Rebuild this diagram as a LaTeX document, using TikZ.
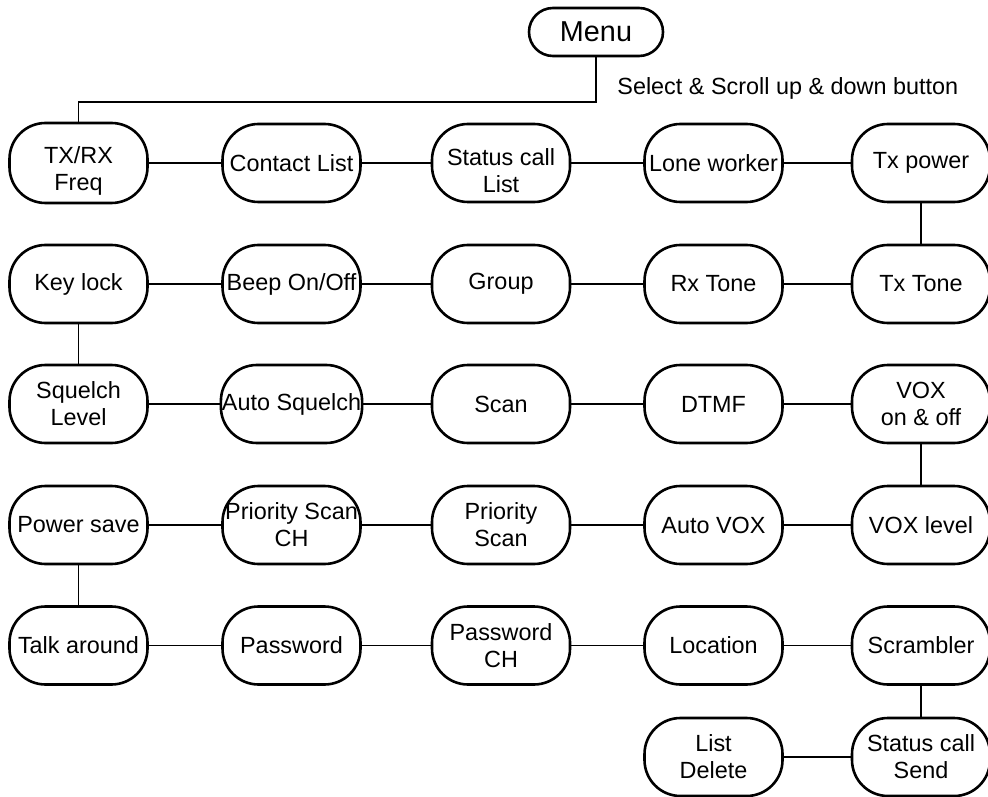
\documentclass[tikz,border=0pt]{standalone}
\usepackage{fontspec}
\setmainfont{Liberation Sans}
\begin{document}
\begin{tikzpicture}[x=0.5pt, y=-0.5pt,
    item/.style={draw, fill=white, line width=1.3pt, rounded corners=18pt, minimum width=69pt, minimum height=39pt, inner xsep=0.5pt, align=center, font=\fontsize{11.7}{13.5}\selectfont},
    low/.style={text height=30pt},
    link/.style={line width=0.65pt}]
\useasboundingbox (0,0) rectangle (988,796);
            %nodes
            \node[item, minimum width=67pt, minimum height=24pt, rounded corners=12pt, font=\fontsize{14.4}{16}\selectfont] (menu) at (596, 32) {Menu};
            \node[anchor=west, inner sep=0pt, font=\fontsize{11.7}{13.5}\selectfont] (hint) at (617, 88) {Select \& Scroll up \& down button};
            \coordinate (bend) at (598, 102);

            \node[item, low, minimum height=40pt] (txrx) at (78.5, 163) {TX/RX\\Freq};
            \node[item] (contact) at (291.5, 163) {Contact List};
            \node[item, low] (statuslist) at (501, 163) {Status call\\List};
            \node[item] (lone) at (713.5, 163) {Lone worker};
            \node[item] (txpower) at (921, 163) {Tx power};

            \node[item] (keylock) at (78.5, 284) {Key lock};
            \node[item] (beep) at (291.5, 284) {Beep On/Off};
            \node[item] (group) at (501, 284) {Group};
            \node[item] (rxtone) at (713.5, 284) {Rx Tone};
            \node[item] (txtone) at (921, 284) {Tx Tone};

            \node[item] (squelch) at (78.5, 404) {Squelch\\Level};
            \node[item] (autosq) at (291.5, 404) {Auto Squelch};
            \node[item] (scan) at (501, 404) {Scan};
            \node[item] (dtmf) at (713.5, 404) {DTMF};
            \node[item] (vox) at (921, 404) {VOX\\on \& off};

            \node[item] (powersave) at (78.5, 525) {Power save};
            \node[item] (prioch) at (291.5, 525) {Priority Scan\\CH};
            \node[item] (prioscan) at (501, 525) {Priority\\Scan};
            \node[item] (autovox) at (713.5, 525) {Auto VOX};
            \node[item] (voxlevel) at (921, 525) {VOX level};

            \node[item] (talk) at (78.5, 645.5) {Talk around};
            \node[item] (password) at (291.5, 645.5) {Password};
            \node[item] (passch) at (501, 645.5) {Password\\CH};
            \node[item] (location) at (713.5, 645.5) {Location};
            \node[item] (scrambler) at (921, 645.5) {Scrambler};

            \node[item] (listdel) at (713.5, 757) {List\\Delete};
            \node[item] (statussend) at (921, 757) {Status call\\Send};

            %edges
            \draw[link] (menu) -- (menu |- bend) -| (txrx) {};
            \draw[link] (txrx) -- (contact) {};
            \draw[link] (contact) -- (statuslist) {};
            \draw[link] (statuslist) -- (lone) {};
            \draw[link] (lone) -- (txpower) {};
            \draw[link] (txpower) -- (txtone) {};
            \draw[link] (keylock) -- (beep) {};
            \draw[link] (beep) -- (group) {};
            \draw[link] (group) -- (rxtone) {};
            \draw[link] (rxtone) -- (txtone) {};
            \draw[link] (keylock) -- (squelch) {};
            \draw[link] (squelch) -- (autosq) {};
            \draw[link] (autosq) -- (scan) {};
            \draw[link] (scan) -- (dtmf) {};
            \draw[link] (dtmf) -- (vox) {};
            \draw[link] (vox) -- (voxlevel) {};
            \draw[link] (powersave) -- (prioch) {};
            \draw[link] (prioch) -- (prioscan) {};
            \draw[link] (prioscan) -- (autovox) {};
            \draw[link] (autovox) -- (voxlevel) {};
            \draw[link] (powersave) -- (talk) {};
            \draw[link] (talk) -- (password) {};
            \draw[link] (password) -- (passch) {};
            \draw[link] (passch) -- (location) {};
            \draw[link] (location) -- (scrambler) {};
            \draw[link] (scrambler) -- (statussend) {};
            \draw[link] (listdel) -- (statussend) {};
        \end{tikzpicture}
\end{document}
